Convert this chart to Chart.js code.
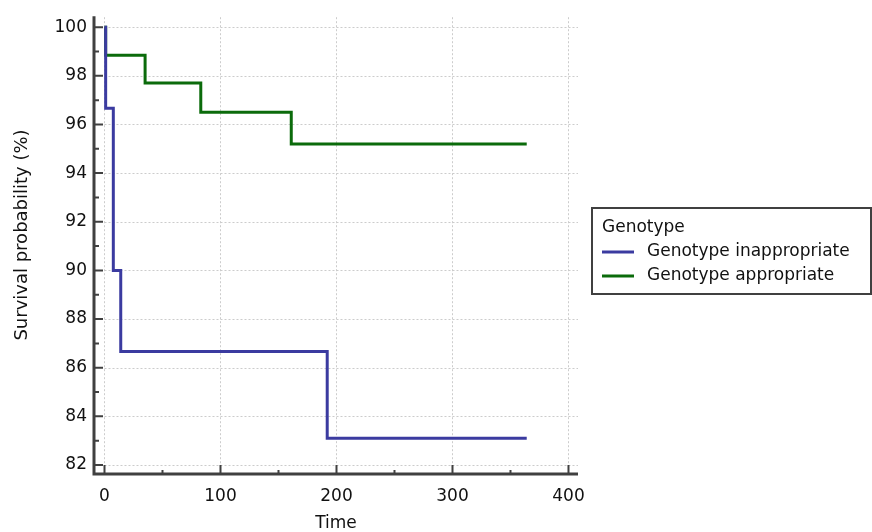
<!DOCTYPE html>
<html>
<head>
<meta charset="utf-8">
<title>Survival</title>
<script src="https://cdn.jsdelivr.net/npm/chart.js@4"></script>
<style>
  html, body { margin: 0; padding: 0; background: #fff; }
  #wrap { width: 872px; height: 532px; position: relative; }
</style>
</head>
<body>
<div id="wrap"><canvas id="km-chart"></canvas></div>
<script>
// Kaplan-Meier steps (time, survival %)
let inapp_time  = [0, 1, 7.6, 14, 192, 364];
let inapp_surv  = [100, 96.67, 90, 86.67, 83.1, 83.1];
let app_time    = [0, 1, 35, 83, 161, 364];
let app_surv    = [100, 98.85, 97.7, 96.5, 95.2, 95.2];

let series_names = ['Genotype inappropriate', 'Genotype appropriate'];
let legend_title = 'Genotype';
let y_title = 'Survival probability (%)';
let x_ticks = [0, 100, 200, 300, 400];
let x_minor = [50, 150, 250, 350];
let y_ticks = [82, 84, 86, 88, 90, 92, 94, 96, 98, 100];
let y_minor = [83, 85, 87, 89, 91, 93, 95, 97, 99];

let color_list = ['#3b3ba0', '#0b6b0b'];
const FONT = '"DejaVu Sans", Arial, sans-serif';
const AXIS_COL = '#404040';

function toXY(t, v) {
  let out = [];
  for (let i = 0; i < t.length; i++) out.push({ x: t[i], y: v[i] });
  return out;
}

// grid, axes (inward ticks), y title and boxed legend drawn on the chart scales
const decorPlugin = {
  id: 'decor',
  beforeDatasetsDraw(chart) {
    const ctx = chart.ctx, xs = chart.scales.x, ys = chart.scales.y, a = chart.chartArea;
    const x0 = xs.getPixelForValue(0), y0 = ys.getPixelForValue(82);
    ctx.save();
    ctx.strokeStyle = '#cccccc';
    ctx.lineWidth = 1;
    ctx.setLineDash([2, 2]);
    x_ticks.forEach(v => {
      const px = Math.round(xs.getPixelForValue(v)) + 0.5;
      ctx.beginPath(); ctx.moveTo(px, a.top); ctx.lineTo(px, y0); ctx.stroke();
    });
    y_ticks.forEach(v => {
      const py = Math.round(ys.getPixelForValue(v)) + 0.5;
      ctx.beginPath(); ctx.moveTo(x0, py); ctx.lineTo(a.right, py); ctx.stroke();
    });
    ctx.restore();
  },
  afterDraw(chart) {
    const ctx = chart.ctx, xs = chart.scales.x, ys = chart.scales.y, a = chart.chartArea;
    ctx.save();
    ctx.strokeStyle = AXIS_COL;
    ctx.lineWidth = 3;
    ctx.setLineDash([]);
    ctx.beginPath();
    ctx.moveTo(a.left, a.top - 1); ctx.lineTo(a.left, a.bottom + 1.5);
    ctx.moveTo(a.left - 1.5, a.bottom); ctx.lineTo(a.right, a.bottom);
    ctx.stroke();
    ctx.lineWidth = 2;
    ctx.beginPath();
    x_ticks.forEach(v => { const p = xs.getPixelForValue(v); ctx.moveTo(p, a.bottom); ctx.lineTo(p, a.bottom - 9); });
    x_minor.forEach(v => { const p = xs.getPixelForValue(v); ctx.moveTo(p, a.bottom); ctx.lineTo(p, a.bottom - 4); });
    y_ticks.forEach(v => { const p = ys.getPixelForValue(v); ctx.moveTo(a.left, p); ctx.lineTo(a.left + 9, p); });
    y_minor.forEach(v => { const p = ys.getPixelForValue(v); ctx.moveTo(a.left, p); ctx.lineTo(a.left + 5, p); });
    ctx.stroke();

    ctx.fillStyle = '#111';
    ctx.textBaseline = 'middle';

    // y axis title (sits a little above the plot's centre in the original)
    ctx.save();
    ctx.translate(22, 235);
    ctx.rotate(-Math.PI / 2);
    ctx.textAlign = 'center';
    ctx.font = '18px ' + FONT;
    ctx.fillText(y_title, 0, 0);
    ctx.restore();

    // legend box
    const bx = 592, by = 208, bw = 279, bh = 86;
    ctx.lineWidth = 2;
    ctx.strokeStyle = AXIS_COL;
    ctx.strokeRect(bx, by, bw, bh);
    ctx.font = '17px ' + FONT;
    ctx.textAlign = 'left';
    ctx.fillText(legend_title, 602, 228);
    chart.data.datasets.forEach((ds, i) => {
      const ly = 252 + i * 24;
      ctx.strokeStyle = ds.borderColor;
      ctx.lineWidth = 3;
      ctx.beginPath(); ctx.moveTo(602, ly); ctx.lineTo(634, ly); ctx.stroke();
      ctx.fillStyle = '#111';
      ctx.fillText(ds.label, 647, ly);
    });
    ctx.restore();
  }
};

let my_datasets = [
  { label: series_names[0], data: toXY(inapp_time, inapp_surv), borderColor: color_list[0] },
  { label: series_names[1], data: toXY(app_time, app_surv), borderColor: color_list[1] }
].map(d => Object.assign(d, {
  stepped: 'before', borderWidth: 3, pointRadius: 0, fill: false, tension: 0
}));

let myChart = new Chart(document.getElementById('km-chart').getContext('2d'), {
  type: 'line',
  data: { datasets: my_datasets },
  plugins: [decorPlugin],
  options: {
    responsive: true,
    maintainAspectRatio: false,
    animation: false,
    layout: { padding: { left: 0, right: 294, top: 14, bottom: 0 } },
    plugins: { legend: { display: false }, tooltip: { enabled: false } },
    scales: {
      x: {
        type: 'linear',
        min: -9.05,
        max: 408.2,
        afterBuildTicks: s => { s.ticks = x_ticks.map(v => ({ value: v })); },
        afterFit: s => { s.height = 58; },
        grid: { display: false, drawTicks: false },
        border: { display: false },
        ticks: { color: '#111', padding: 12, font: { family: FONT, size: 17 } },
        title: { display: true, text: 'Time', color: '#111', padding: { top: 0, bottom: 0 }, font: { family: FONT, size: 17, lineHeight: 1 } }
      },
      y: {
        type: 'linear',
        min: 81.63,
        max: 100.41,
        afterBuildTicks: s => { s.ticks = y_ticks.map(v => ({ value: v })); },
        afterFit: s => { s.width = 94; },
        grid: { display: false, drawTicks: false },
        border: { display: false },
        ticks: { color: '#111', padding: 7, font: { family: FONT, size: 17 } },
        title: { display: false }
      }
    }
  }
});
</script>
</body>
</html>
